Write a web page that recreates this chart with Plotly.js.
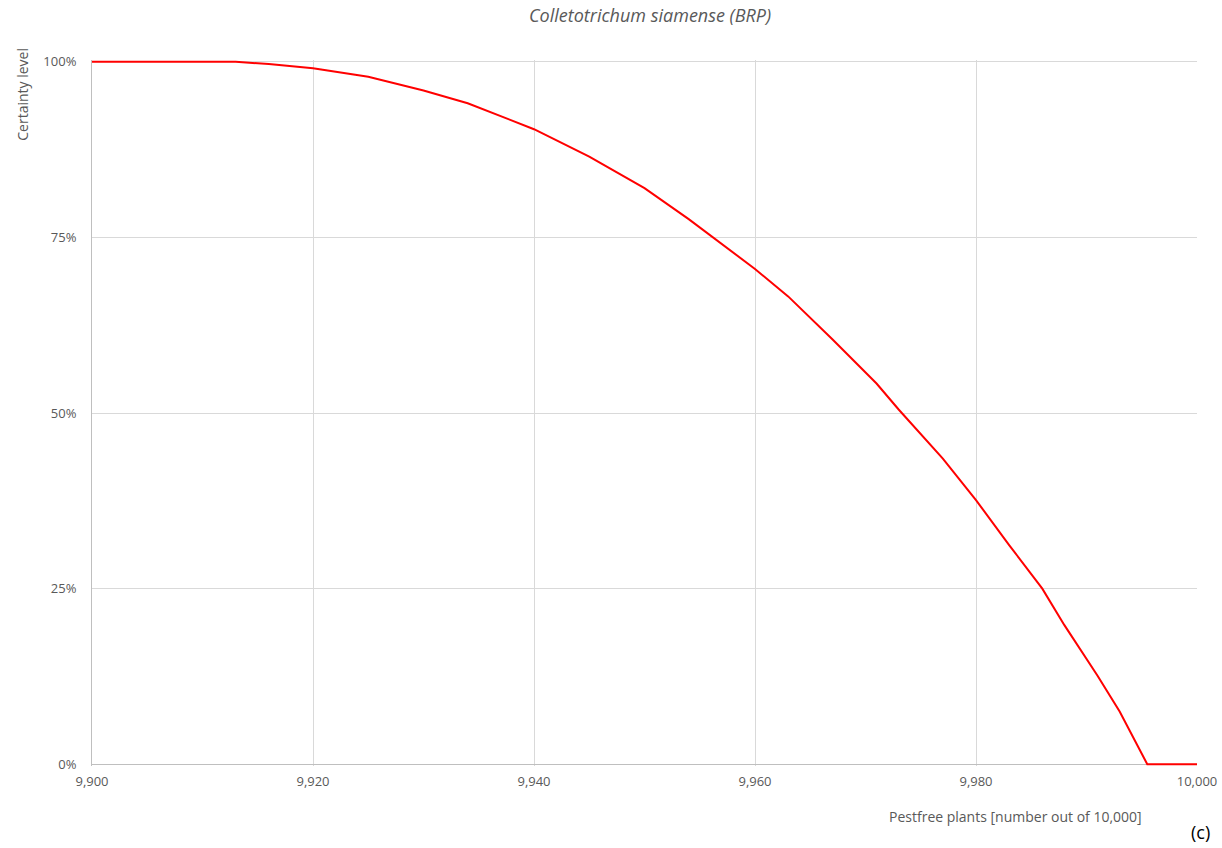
<!DOCTYPE html>
<html>
<head>
<meta charset="utf-8">
<script src="https://cdn.plot.ly/plotly-3.0.1.min.js"></script>
<style>html,body{margin:0;padding:0;background:#fff;}#chart{width:1222px;height:848px;}</style>
</head>
<body>
<div id="chart"></div>
<script>
const pestfreePlants = [9900, 9905, 9910, 9913, 9916, 9920, 9925, 9930, 9934, 9940, 9945, 9950, 9954, 9956, 9960, 9963, 9967, 9971, 9973, 9977, 9980, 9983, 9984.5, 9986, 9988, 9989.5, 9991, 9993, 9995.5, 10000];
const certaintyLevel = [100, 100, 100, 100, 99.67, 99.06, 97.87, 95.9, 94.1, 90.4, 86.5, 82.0, 77.6, 75.2, 70.5, 66.6, 60.5, 54.2, 50.5, 43.5, 37.6, 31.2, 28.1, 25.0, 19.8, 16.2, 12.6, 7.5, 0, 0];
const xTicks = [9900, 9920, 9940, 9960, 9980, 10000];
const yTicks = [0, 25, 50, 75, 100];
const yTickLabels = ['0%', '25%', '50%', '75%', '100%'];

const chartTitle = 'Colletotrichum siamense (BRP)';
const xTitle = 'Pestfree plants [number out of 10,000]';
const yTitle = 'Certainty level';
const panelLabel = '(c)';

const gray = '#595959';
const font = 'Open Sans, sans-serif';

Plotly.newPlot('chart', [{
  x: pestfreePlants,
  y: certaintyLevel,
  type: 'scatter',
  mode: 'lines',
  line: {color: '#ff0000', width: 2},
  hoverinfo: 'skip'
}], {
  width: 1222, height: 848,
  paper_bgcolor: '#ffffff', plot_bgcolor: '#ffffff',
  margin: {l: 92, r: 25, t: 60, b: 82},
  showlegend: false,
  title: {text: '<i>' + chartTitle + '</i>', font: {family: font, size: 18, color: gray}, x: 0.532, xanchor: 'center', y: 0.981, yanchor: 'middle'},
  xaxis: {
    range: [9900, 10000], tickvals: xTicks, tickformat: ',d',
    showgrid: true, gridcolor: '#d9d9d9', gridwidth: 1,
    showline: false, layer: 'below traces',
    zeroline: false, ticks: '', ticklabelstandoff: 6,
    tickfont: {family: font, size: 13, color: gray}
  },
  yaxis: {
    range: [-0.25, 100.25], tickvals: yTicks, ticktext: yTickLabels,
    showgrid: true, gridcolor: '#d9d9d9', gridwidth: 1,
    showline: true, linecolor: '#bfbfbf', linewidth: 1, layer: 'below traces',
    zeroline: true, zerolinecolor: '#bfbfbf', zerolinewidth: 1,
    ticks: '', ticklabelstandoff: 12,
    tickfont: {family: font, size: 13, color: gray}
  },
  annotations: [
    {text: yTitle, xref: 'paper', yref: 'paper', x: -0.063, y: 1.02, xanchor: 'center', yanchor: 'top',
     textangle: -90, showarrow: false, font: {family: font, size: 14, color: gray}},
    {text: xTitle, xref: 'paper', yref: 'paper', x: 0.836, y: -0.071, xanchor: 'center', yanchor: 'middle',
     showarrow: false, font: {family: font, size: 14, color: gray}},
    {text: panelLabel, xref: 'paper', yref: 'paper', x: 1.014, y: -0.094, xanchor: 'right', yanchor: 'middle',
     showarrow: false, font: {family: font, size: 18, color: '#000000'}}
  ]
}, {displayModeBar: false, staticPlot: true});
</script>
</body>
</html>
